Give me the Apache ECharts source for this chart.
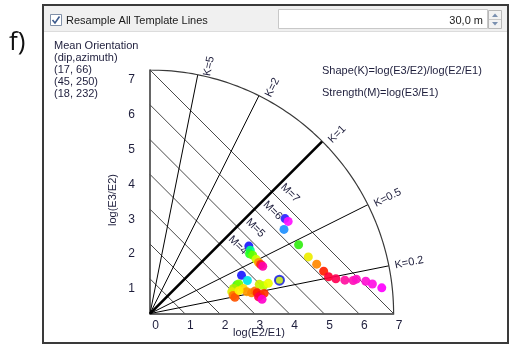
<!DOCTYPE html>
<html>
<head>
<meta charset="utf-8">
<script src="https://cdn.jsdelivr.net/npm/echarts@6/dist/echarts.min.js"></script>
<style>
  html, body { margin: 0; padding: 0; background: #ffffff; }
  #chart { width: 512px; height: 347px; }
</style>
</head>
<body>
<div id="chart"></div>
<script>
// Flinn-type shape/strength diagram of orientation eigenvalues
const logE2E1 = [
  3.88, 3.97, 3.85,
  4.27, 4.55, 4.79, 4.99, 5.13, 5.34, 5.60, 5.84, 5.93, 6.20, 6.39, 6.66,
  2.84, 2.88, 2.86, 2.95, 3.05, 3.12, 3.18, 3.24,
  2.63, 2.80, 2.49, 2.55, 2.40, 2.35, 2.39, 2.44, 2.68, 2.78, 2.92, 3.02,
  3.14, 3.26, 3.40, 3.08, 3.18, 3.28, 3.12, 3.22, 2.56
];
const logE3E2 = [
  2.73, 2.65, 2.42,
  1.98, 1.63, 1.42, 1.22, 1.06, 1.00, 0.96, 0.95, 0.99, 0.93, 0.85, 0.74,
  1.94, 1.82, 1.72, 1.68, 1.56, 1.47, 1.41, 1.36,
  1.10, 0.95, 0.82, 0.85, 0.72, 0.63, 0.52, 0.47, 0.72, 0.63, 0.60, 0.65,
  0.84, 0.80, 0.87, 0.60, 0.53, 0.58, 0.48, 0.41, 0.66
];
const pointColors = [
  '#2a22ff', '#ff10ff', '#1e90ff',
  '#33ee11', '#eeee00', '#ff8800', '#ff2200', '#ff0033', '#ff0055', '#ff10a0', '#ff10b4', '#ff10c4', '#ff10d4', '#ff10e4', '#ff00ff',
  '#1a1aff', '#00ff88', '#22ff22', '#66ff00', '#ccff00', '#ff9900', '#ff2020', '#ff00aa',
  '#1a1aff', '#00e5e5', '#33ee33', '#77ff00', '#aaee00', '#ddee00', '#ff7700', '#ff5500', '#ffdd00', '#ff9900', '#ff8800', '#ff7700',
  '#ccee00', '#bbff00', '#eeff00', '#ff2200', '#ff1010', '#ff3300', '#ff0044', '#ff00cc', '#ffee00'
];
// highlighted sample (ring marker)
const selectedX = [3.72];
const selectedY = [0.96];

const shapeValues = [0.2, 0.5, 1, 2, 5];      // K template lines
const strengthValues = [1, 2, 3, 4, 5, 6, 7]; // M template lines
const strengthLabelled = [4, 5, 6, 7];
const axisMax = 7;
const meanOrientation = ['Mean Orientation', '(dip,azimuth)', '(17, 66)', '(45, 250)', '(18, 232)'];

const chart = echarts.init(document.getElementById('chart'), null, { renderer: 'canvas' });

const FONT = 'Liberation Sans';
const TXT = '#1e1e3c';

const series = [];

// strength (M) lines: logE2E1 + logE3E2 = M
strengthValues.forEach(m => {
  series.push({
    type: 'line', silent: true, symbol: 'none', z: 2,
    data: [[0, m], [m, 0]],
    lineStyle: { color: '#4a4a4a', width: 1 }
  });
});

// shape (K) lines: logE3E2 / logE2E1 = K
shapeValues.forEach(k => {
  const a = Math.atan(k);
  series.push({
    type: 'line', silent: true, symbol: 'none', z: 3,
    data: [[0, 0], [axisMax * Math.cos(a), axisMax * Math.sin(a)]],
    lineStyle: { color: '#000000', width: k === 1 ? 2.6 : 1 }
  });
});

// outer boundary arc
const arc = [];
for (let d = 0; d <= 90; d += 1) {
  const a = d * Math.PI / 180;
  arc.push([axisMax * Math.cos(a), axisMax * Math.sin(a)]);
}
series.push({
  type: 'line', silent: true, symbol: 'none', smooth: false, z: 3,
  data: arc, lineStyle: { color: '#3a3a3a', width: 1.2 }
});

// samples
series.push({
  type: 'scatter', z: 5, symbolSize: 9,
  data: logE2E1.map((x, i) => ({
    value: [x, logE3E2[i]],
    itemStyle: { color: pointColors[i], opacity: 0.92 }
  }))
});
series.push({
  type: 'scatter', z: 6, symbolSize: 9,
  data: selectedX.map((x, i) => [x, selectedY[i]]),
  itemStyle: { color: '#b4e000', borderColor: '#0a10e8', borderWidth: 2 }
});

chart.setOption({
  animation: false,
  backgroundColor: '#ffffff',
  grid: { left: 150, top: 70, width: 243.6, height: 243.6, containLabel: false },
  xAxis: {
    type: 'value', min: 0, max: axisMax, interval: 1,
    axisLine: { show: true, lineStyle: { color: '#333', width: 1.5 } },
    axisTick: { show: false }, splitLine: { show: false },
    axisLabel: { color: TXT, fontFamily: FONT, fontSize: 12, margin: 6, padding: [0, 0, 0, 11] }
  },
  yAxis: {
    type: 'value', min: 0, max: axisMax, interval: 1,
    axisLine: { show: true, lineStyle: { color: '#333', width: 1.5 } },
    axisTick: { show: false }, splitLine: { show: false },
    axisLabel: {
      color: TXT, fontFamily: FONT, fontSize: 12, margin: 15,
      verticalAlign: 'top', padding: [4, 0, 0, 0],
      formatter: v => (v === 0 ? '' : String(v))
    }
  },
  series: series
});

const px = p => chart.convertToPixel({ gridIndex: 0 }, p);
const g = [];

// window frame and header bar
g.push({ type: 'rect', z: 0, shape: { x: 44, y: 6, width: 463, height: 25 }, style: { fill: '#f0f0f0' } });
g.push({ type: 'line', z: 1, shape: { x1: 44, y1: 31.5, x2: 507, y2: 31.5 }, style: { stroke: '#dcdcdc', lineWidth: 1 } });
g.push({ type: 'rect', z: 1, shape: { x: 43, y: 5, width: 465, height: 338 }, style: { fill: 'none', stroke: '#3a3a3a', lineWidth: 2 } });
// checkbox
g.push({ type: 'rect', z: 2, shape: { x: 50.5, y: 14.5, width: 11, height: 11 }, style: { fill: '#ffffff', stroke: '#8090a8', lineWidth: 1 } });
g.push({ type: 'polyline', z: 3, shape: { points: [[52.5, 20], [55, 23], [59.5, 16.5]] }, style: { stroke: '#3c5a8c', lineWidth: 1.6, fill: 'none' } });
g.push({ type: 'text', z: 3, x: 66, y: 20.5, style: { text: 'Resample All Template Lines', font: '11px "' + FONT + '"', fill: '#1a1a1a', verticalAlign: 'middle' } });
// input field with spinner
g.push({ type: 'rect', z: 2, shape: { x: 278.5, y: 9.5, width: 209, height: 19 }, style: { fill: '#ffffff', stroke: '#c8c8c8', lineWidth: 1 } });
g.push({ type: 'text', z: 3, x: 483, y: 20.5, style: { text: '30,0 m', font: '11px "' + FONT + '"', fill: '#1a1a1a', align: 'right', verticalAlign: 'middle' } });
g.push({ type: 'rect', z: 2, shape: { x: 488.5, y: 10.5, width: 13, height: 18 }, style: { fill: '#f2f2f2', stroke: '#b8b8b8', lineWidth: 1 } });
g.push({ type: 'line', z: 3, shape: { x1: 489, y1: 19.5, x2: 501, y2: 19.5 }, style: { stroke: '#c8c8c8', lineWidth: 1 } });
g.push({ type: 'polygon', z: 3, shape: { points: [[492, 17], [495, 13.5], [498, 17]] }, style: { fill: '#7a90b0' } });
g.push({ type: 'polygon', z: 3, shape: { points: [[492, 22], [495, 25.5], [498, 22]] }, style: { fill: '#7a90b0' } });

// panel letter
g.push({ type: 'text', z: 3, x: 9, y: 43, style: { text: 'f)', font: '26px "Open Sans"', fill: '#111', verticalAlign: 'middle' } });

// orientation legend
meanOrientation.forEach((t, i) => {
  g.push({ type: 'text', z: 3, x: 54, y: 46 + i * 12, style: { text: t, font: '11px "' + FONT + '"', fill: TXT, verticalAlign: 'middle' } });
});

// definitions
g.push({ type: 'text', z: 3, x: 322, y: 71, style: { text: 'Shape(K)=log(E3/E2)/log(E2/E1)', font: '11px "' + FONT + '"', fill: TXT, verticalAlign: 'middle' } });
g.push({ type: 'text', z: 3, x: 322, y: 93, style: { text: 'Strength(M)=log(E3/E1)', font: '11px "' + FONT + '"', fill: TXT, verticalAlign: 'middle' } });

// axis names
g.push({ type: 'text', z: 3, x: 259, y: 333, style: { text: 'log(E2/E1)', font: '11px "' + FONT + '"', fill: TXT, align: 'center', verticalAlign: 'middle' } });
g.push({ type: 'text', z: 3, x: 112.5, y: 200, rotation: Math.PI / 2, style: { text: 'log(E3/E2)', font: '11px "' + FONT + '"', fill: TXT, align: 'center', verticalAlign: 'middle' } });

// K labels beyond the arc, rotated along each line
shapeValues.forEach(k => {
  const a = Math.atan(k);
  const s2 = Math.sin(a) * Math.sin(a);
  const p = px([(axisMax + 0.08) * Math.cos(a), (axisMax + 0.08) * Math.sin(a)]);
  g.push({
    type: 'text', z: 4, x: p[0] + 3 + 6 * s2, y: p[1] + 4 * s2, rotation: a,
    style: { text: 'K=' + k, font: '11px "' + FONT + '"', fill: TXT, align: 'left', verticalAlign: 'middle' }
  });
});

// M labels next to the K=1 line
strengthLabelled.forEach(m => {
  const p = px([m / 2, m / 2]);
  g.push({
    type: 'text', z: 4, x: p[0], y: p[1], rotation: -Math.PI / 4,
    style: { text: 'M=' + m, x: 3, y: -12, font: '11px "' + FONT + '"', fill: TXT, align: 'left', verticalAlign: 'middle' }
  });
});

chart.setOption({ graphic: g });
</script>
</body>
</html>
